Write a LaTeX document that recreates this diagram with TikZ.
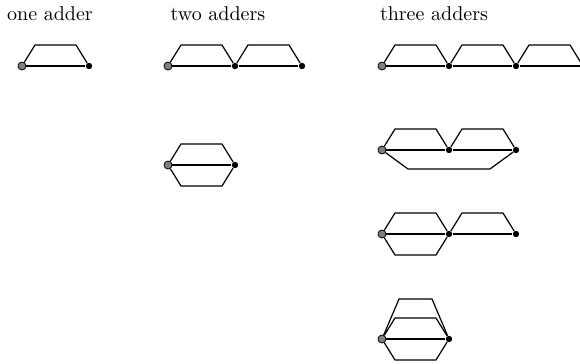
\documentclass[tikz,border=0pt]{standalone}
\usepackage{tikz}

\tikzset{
  src/.style={circle, draw=black, fill=gray, inner sep=0pt, minimum size=4pt, line width=0.4pt},
  dst/.style={circle, fill=black, inner sep=0pt, minimum size=3.2pt},
  wire/.style={line width=0.6pt},
}

% one adder between two dots: the straight edge and the bump over it
\newcommand{\adderup}[2]{%
  \draw[wire] (#1) -- (#2);
  \draw[wire] (#1) -- ++(13,-21) -- ++(41,0) -- (#2);
}
\newcommand{\adderdown}[2]{%
  \draw[wire] (#1) -- ++(13,21) -- ++(41,0) -- (#2);
}

\begin{document}
\begin{tikzpicture}[x=0.5pt, y=-0.5pt]
    \useasboundingbox (0,0) rectangle (580,364);

    % Titles
    \node (t1) at (50,14) {one adder};
    \node (t2) at (218,14) {two adders};
    \node (t3) at (434,14) {three adders};

    % One adder
    \node[src] (a0) at (22,66) {};
    \node[dst] (a1) at (89,66) {};
    \adderup{a0}{a1}

    % Two adders in series
    \node[src] (b0) at (168,66) {};
    \node[dst] (b1) at (235,66) {};
    \node[dst] (b2) at (302,66) {};
    \adderup{b0}{b1}
    \adderup{b1}{b2}

    % Three adders in series
    \node[src] (c0) at (382,66) {};
    \node[dst] (c1) at (449,66) {};
    \node[dst] (c2) at (516,66) {};
    \coordinate (c3) at (583,66);
    \adderup{c0}{c1}
    \adderup{c1}{c2}
    \adderup{c2}{c3}

    % Two adders in parallel
    \node[src] (d0) at (168,165) {};
    \node[dst] (d1) at (235,165) {};
    \adderup{d0}{d1}
    \adderdown{d0}{d1}

    % Two in series, one across both
    \node[src] (e0) at (382,150) {};
    \node[dst] (e1) at (449,150) {};
    \node[dst] (e2) at (516,150) {};
    \adderup{e0}{e1}
    \adderup{e1}{e2}
    \draw[wire] (e0) -- ++(26,19) -- ++(82,0) -- (e2);

    % Two in parallel, then one in series
    \node[src] (f0) at (382,234) {};
    \node[dst] (f1) at (449,234) {};
    \node[dst] (f2) at (516,234) {};
    \adderup{f0}{f1}
    \adderdown{f0}{f1}
    \adderup{f1}{f2}

    % Three in parallel
    \node[src] (g0) at (382,339) {};
    \node[dst] (g1) at (449,339) {};
    \adderup{g0}{g1}
    \adderdown{g0}{g1}
    \draw[wire] (g0) -- ++(17,-40) -- ++(33,0) -- (g1);

\end{tikzpicture}
\end{document}
